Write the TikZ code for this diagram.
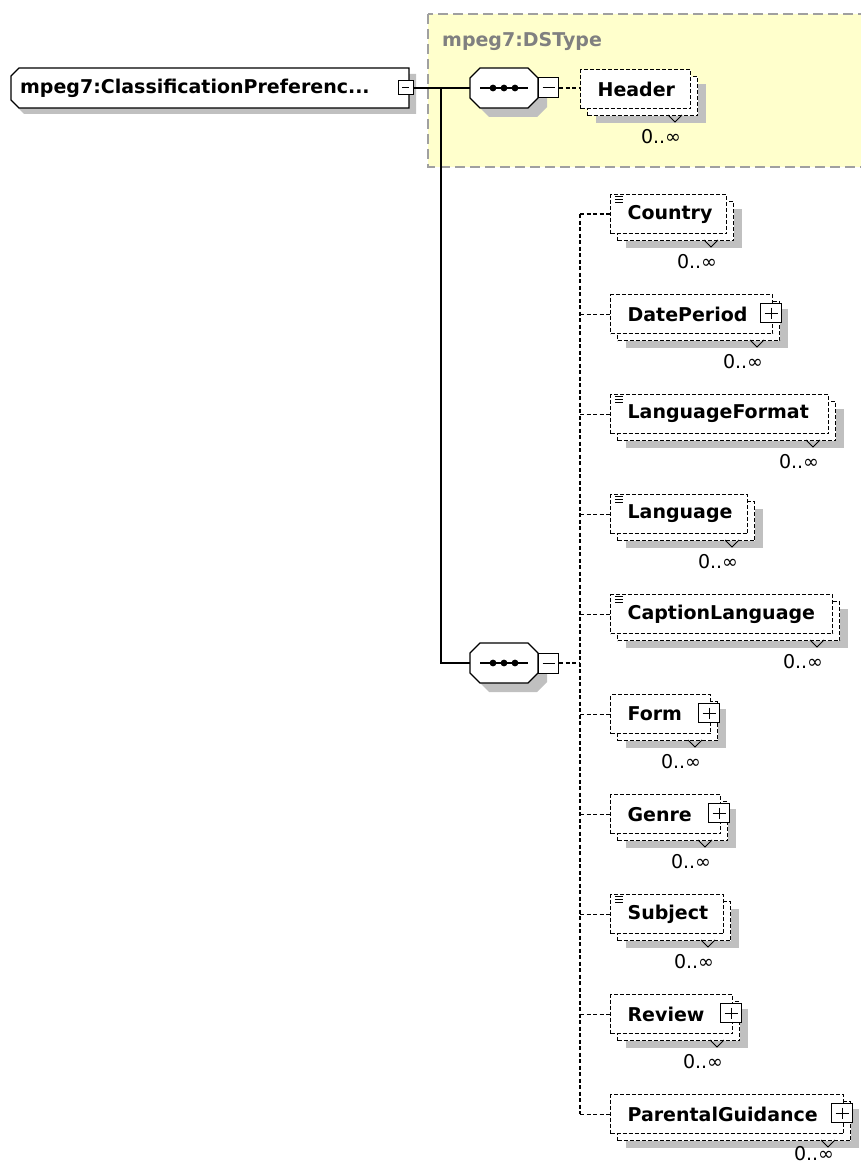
\documentclass[tikz,border=0pt]{standalone}
\usepackage{fontspec}
\setmainfont{DejaVu Sans}

\definecolor{dsyellow}{HTML}{FFFFCC}
\definecolor{dsgray}{HTML}{A0A0A0}
\definecolor{shadowgray}{HTML}{C0C0C0}
\definecolor{labelgray}{HTML}{808080}

\newcommand{\elfont}{\fontsize{19}{22}\selectfont\bfseries}
\newcommand{\multfont}{\fontsize{19}{22}\selectfont}

% child element: name, text, row y, left x, width, kind (s simple, p plus, n none)
\newcommand{\xelem}[6]{%
  \pgfmathsetmacro{\tw}{#5-34}%
  \node[elbox, minimum width=#5pt] (#1) at (#4,#3-19) {\makebox[\tw pt][l]{#2}};
  \draw[tipline] (#4+#5-22,#3+27) -- (#4+#5-15,#3+34) -- (#4+#5-8,#3+27);
  \node[mult] (#1m) at (#4+#5-29,{min(#3+49,1154)}) {0..∞};
  \if s#6\draw[iconline] (#4+5,#3-17) -- ++(8,0) (#4+5,#3-14) -- ++(8,0) (#4+5,#3-11) -- ++(8,0);\fi
  \if p#6\node[plusbox] (#1pm) at (#4+#5-1,#3) {};\fi
}

\begin{document}
\begin{tikzpicture}[x=1pt, y=-1pt,
  conn/.style={line width=1.3pt},
  dconn/.style={line width=1.2pt, dash pattern=on 4pt off 2.5pt},
  tipline/.style={line width=0.9pt},
  iconline/.style={line width=0.9pt},
  outline/.style={draw, line width=1.2pt, fill=white},
  mult/.style={font=\multfont, inner sep=0pt},
  elbox/.style={draw, line width=1.2pt, dash pattern=on 4pt off 2pt, fill=white,
    anchor=north west, inner xsep=17pt, inner ysep=0pt, minimum height=39pt, font=\elfont,
    preaction={draw=none, fill=shadowgray, transform canvas={shift={(15pt,-14pt)}}},
    preaction={draw=black, line width=1.2pt, dash pattern=on 4pt off 2pt, fill=white,
      transform canvas={shift={(7pt,-7pt)}}}},
  minusbox/.style={draw, solid, fill=white, line width=1pt, minimum width=20pt,
    minimum height=20pt, inner sep=0pt,
    path picture={\draw[line width=1pt] ([xshift=4pt]path picture bounding box.west)
      -- ([xshift=-4pt]path picture bounding box.east);}},
  plusbox/.style={minusbox, minimum width=21pt, minimum height=19pt,
    path picture={\draw[line width=1pt] ([xshift=4pt]path picture bounding box.west)
      -- ([xshift=-4pt]path picture bounding box.east)
      ([yshift=-4pt]path picture bounding box.north)
      -- ([yshift=4pt]path picture bounding box.south);}},
  seqbox/.style={minimum width=68pt, minimum height=40pt, inner sep=0pt},
  rootbox/.style={anchor=west, inner xsep=9pt, inner ysep=0pt, minimum height=40pt, font=\elfont}]

  \useasboundingbox (0,0) rectangle (861,1166);
  \clip (0,0) rectangle (861,1166);

  % --- 1. DSType region ---
  \draw[dsgray, fill=dsyellow, line width=1.5pt, dash pattern=on 10pt off 5pt]
    (428,14) rectangle (885,167);
  \node[font=\elfont, text=labelgray, anchor=west, inner sep=0pt] (dstype) at (442,42) {mpeg7:DSType};

  % --- 2. root element ---
  \fill[shadowgray] (19,74) -- (416,74) -- (416,114) -- (24,114) -- (18,108) -- cycle;
  \draw[outline] (19,68) -- (409,68) -- (409,108) -- (19,108) -- (11,100) -- (11,76) -- cycle;
  \node[rootbox] (root) at (11,88) {\makebox[380pt][l]{mpeg7:ClassificationPreferenc...}};
  \node[minusbox, minimum width=15pt, minimum height=14pt] (rootpm) at (405.5,88) {};

  % --- 3. sequences ---
  \foreach \cy in {88,663} {
    \fill[shadowgray, shift={(9,9)}] (480,\cy-20) -- (528,\cy-20) -- (538,\cy-10) -- (538,\cy+10)
      -- (528,\cy+20) -- (480,\cy+20) -- (470,\cy+10) -- (470,\cy-10) -- cycle;
    \draw[outline] (480,\cy-20) -- (528,\cy-20) -- (538,\cy-10) -- (538,\cy+10)
      -- (528,\cy+20) -- (480,\cy+20) -- (470,\cy+10) -- (470,\cy-10) -- cycle;
  }
  \node[seqbox] (seq1) at (504,88) {};
  \node[seqbox] (seq2) at (504,663) {};
  \node[minusbox, anchor=west] (seq1pm) at (seq1.east) {};
  \node[minusbox, anchor=west] (seq2pm) at (seq2.east) {};
  \foreach \s in {seq1,seq2} {
    \draw[line width=1.2pt] ([xshift=-24pt]\s.center) -- ([xshift=24pt]\s.center);
    \foreach \dx in {-11,0,11}
      \fill ([xshift=\dx pt]\s.center) circle (3.4pt);
  }

  % --- 4. child elements ---
  \foreach \nm/\txt/\ry/\lx/\ww/\kd in {
      header/Header/88/580/110/n,
      country/Country/213/610/116/s,
      dateperiod/DatePeriod/313/610/162/p,
      languageformat/LanguageFormat/413/610/218/s,
      language/Language/513/610/137/s,
      captionlanguage/CaptionLanguage/613/610/222/s,
      form/Form/713/610/100/p,
      genre/Genre/813/610/110/p,
      subject/Subject/913/610/113/s,
      review/Review/1013/610/122/p,
      parentalguidance/ParentalGuidance/1113/610/233/p} {
    \xelem{\nm}{\txt}{\ry}{\lx}{\ww}{\kd}
  }

  % --- 5. connectors ---
  \coordinate (fork) at (441,88);
  \coordinate (bus) at (580,663);
  \draw[conn] (rootpm.east) -- (seq1.west);
  \draw[conn] (fork) |- (seq2.west);
  \draw[dconn] (seq1pm.east) -- (seq1pm.east -| header.west);
  \draw[dconn] (seq2pm.east) -- (bus);
  \draw[dconn] (bus |- country.west) -- (bus |- parentalguidance.west);
  \foreach \nm in {country,dateperiod,languageformat,language,captionlanguage,
                   form,genre,subject,review,parentalguidance}
    \draw[dconn] (bus |- \nm.west) -- (\nm.west);

\end{tikzpicture}
\end{document}
